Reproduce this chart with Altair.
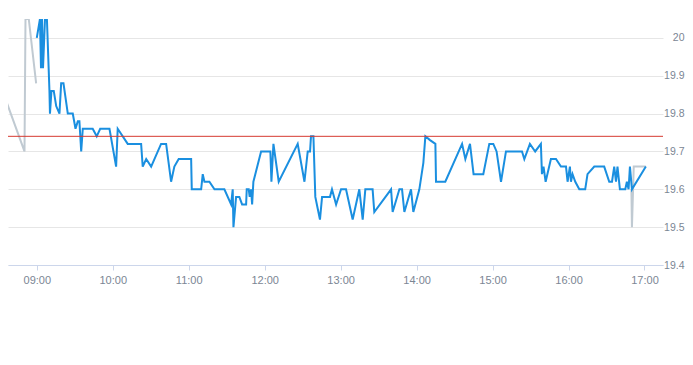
import altair as alt
import pandas as pd

DAY = "2024-01-02T"

# pre/after-market series (gray)
gray_times = ["08:30:00", "08:30:45", "08:50:18", "08:51:05", "08:53:40", "08:59:30",
              "16:49:40", "16:50:05", "16:51:30", "17:01:05"]
gray_vals = [19.70, 19.88, 19.70, 20.05, 20.05, 19.88,
             19.60, 19.50, 19.66, 19.66]
gray_seg = [0, 0, 0, 0, 0, 0, 1, 1, 1, 1]

# trading session series (blue)
blue_times = [
    "09:00:00", "09:02:30", "09:03:20", "09:04:10", "09:04:55", "09:06:30", "09:08:00",
    "09:10:00", "09:10:25", "09:11:35", "09:13:25", "09:15:20", "09:17:55", "09:19:15",
    "09:21:05", "09:24:30", "09:28:25", "09:30:35", "09:32:25", "09:33:40", "09:35:05",
    "09:36:20", "09:44:10", "09:47:20", "09:50:05", "09:57:25", "10:02:40", "10:03:55",
    "10:11:50", "10:22:25", "10:23:40", "10:26:25", "10:30:20", "10:38:10", "10:42:10",
    "10:46:05", "10:48:40", "10:52:05", "11:01:55", "11:02:25", "11:09:50", "11:11:05",
    "11:12:25", "11:16:20", "11:20:20", "11:28:10", "11:33:30", "11:34:45", "11:35:20",
    "11:37:25", "11:40:00", "11:42:10", "11:45:20", "11:45:50", "11:47:25", "11:48:10",
    "11:49:15", "11:50:05", "11:51:05", "11:57:10", "12:04:30", "12:05:20", "12:06:55",
    "12:11:05", "12:26:05", "12:31:25", "12:34:00", "12:35:50", "12:36:35", "12:38:30",
    "12:40:00", "12:41:50", "12:43:40", "12:45:20", "12:51:35", "12:53:10", "12:56:25",
    "13:00:20", "13:04:15", "13:09:30", "13:14:45", "13:17:25", "13:19:30", "13:25:15",
    "13:26:35", "13:39:50", "13:41:05", "13:46:25", "13:48:30", "13:50:20", "13:55:35",
    "13:57:25", "14:02:10", "14:05:20", "14:06:55", "14:10:35", "14:14:50", "14:15:20",
    "14:22:40", "14:35:55", "14:38:30", "14:42:10", "14:45:00", "14:52:40", "14:57:25",
    "15:00:35", "15:03:10", "15:06:40", "15:10:35", "15:23:15", "15:25:05", "15:29:30",
    "15:33:40", "15:38:10", "15:39:00", "15:40:15", "15:41:55", "15:46:05", "15:50:05",
    "15:54:00", "15:58:00", "15:59:15", "16:01:05", "16:01:55", "16:03:10", "16:05:20",
    "16:08:30", "16:13:10", "16:15:00", "16:20:20", "16:28:10", "16:32:10", "16:34:20",
    "16:36:05", "16:37:30", "16:38:40", "16:40:35", "16:44:50", "16:46:05", "16:47:25",
    "16:48:30", "16:50:05", "17:01:05",
]
blue_vals = [
    20.00, 20.05, 19.92, 20.05, 19.92, 20.05, 20.05,
    19.86, 19.80, 19.86, 19.86, 19.82, 19.80, 19.88,
    19.88, 19.80, 19.80, 19.76, 19.78, 19.78, 19.70,
    19.76, 19.76, 19.74, 19.76, 19.76, 19.66, 19.76,
    19.72, 19.72, 19.66, 19.68, 19.66, 19.72, 19.72,
    19.62, 19.66, 19.68, 19.68, 19.60, 19.60, 19.64,
    19.62, 19.62, 19.60, 19.60, 19.56, 19.60, 19.50,
    19.58, 19.58, 19.56, 19.56, 19.60, 19.60, 19.58,
    19.60, 19.56, 19.62, 19.70, 19.70, 19.62, 19.72,
    19.62, 19.72, 19.62, 19.70, 19.70, 19.74, 19.74,
    19.58, 19.55, 19.52, 19.58, 19.58, 19.60, 19.56,
    19.60, 19.60, 19.52, 19.60, 19.52, 19.60, 19.60,
    19.54, 19.60, 19.54, 19.60, 19.60, 19.54, 19.60,
    19.54, 19.60, 19.67, 19.74, 19.73, 19.72, 19.62,
    19.62, 19.72, 19.68, 19.72, 19.64, 19.64, 19.72,
    19.72, 19.70, 19.62, 19.70, 19.70, 19.68, 19.72,
    19.70, 19.72, 19.64, 19.66, 19.62, 19.68, 19.68,
    19.66, 19.66, 19.62, 19.66, 19.62, 19.64, 19.62,
    19.60, 19.60, 19.64, 19.66, 19.66, 19.62, 19.62,
    19.66, 19.62, 19.66, 19.60, 19.60, 19.62, 19.60,
    19.66, 19.60, 19.66,
]

prev_close = 19.74
y_ticks = [19.4, 19.5, 19.6, 19.7, 19.8, 19.9, 20.0]
x_tick_hours = [9, 10, 11, 12, 13, 14, 15, 16, 17]

gray_df = pd.DataFrame({"t": [DAY + s for s in gray_times], "v": gray_vals, "seg": gray_seg})
blue_df = pd.DataFrame({"t": [DAY + s for s in blue_times], "v": blue_vals})
ref_df = pd.DataFrame({"v": [prev_close]})

LABEL_COLOR = "#7b8694"
FONT = "Liberation Sans"

x_scale = alt.Scale(
    domain=[alt.DateTime(year=2024, month=1, date=2, hours=8, minutes=37, seconds=16),
            alt.DateTime(year=2024, month=1, date=2, hours=17, minutes=14, seconds=37)],
    nice=False,
)
y_scale = alt.Scale(domain=[19.4, 20.05], nice=False, zero=False)

x_axis = alt.Axis(
    values=[alt.DateTime(year=2024, month=1, date=2, hours=h) for h in x_tick_hours],
    format="%H:%M", title=None, grid=False,
    domainColor="#ccd6eb", tickColor="#ccd6eb", tickSize=5,
    labelColor=LABEL_COLOR, labelFontSize=11, labelFont=FONT, labelPadding=4,
)
y_axis = alt.Axis(
    orient="right", values=y_ticks, format=".6~g", title=None,
    grid=True, gridColor="#e6e6e6", domain=False, ticks=False,
    labelColor=LABEL_COLOR, labelFontSize=10.5, labelFont=FONT,
    labelAlign="right", labelPadding=21, labelBaseline="middle",
)

gray = alt.Chart(gray_df).mark_line(color="#c0cad2", strokeWidth=2, clip=True).encode(
    x=alt.X("t:T", scale=x_scale, axis=x_axis),
    y=alt.Y("v:Q", scale=y_scale, axis=y_axis),
    detail="seg:N",
)
blue = alt.Chart(blue_df).mark_line(color="#1a8fe0", strokeWidth=2, clip=True).encode(
    x=alt.X("t:T", scale=x_scale),
    y=alt.Y("v:Q", scale=y_scale),
)
ref = alt.Chart(ref_df).mark_rule(color="#d63a30", strokeWidth=1).encode(
    y=alt.Y("v:Q", scale=y_scale),
)

chart = alt.layer(gray, blue, ref).properties(
    width=655, height=246,
    autosize=alt.AutoSizeParams(type="none"),
    padding={"left": 0, "top": 11, "right": 22, "bottom": 60},
).configure_view(stroke=None)

chart.save("out.html", embed_options={"renderer": "svg", "actions": False})
